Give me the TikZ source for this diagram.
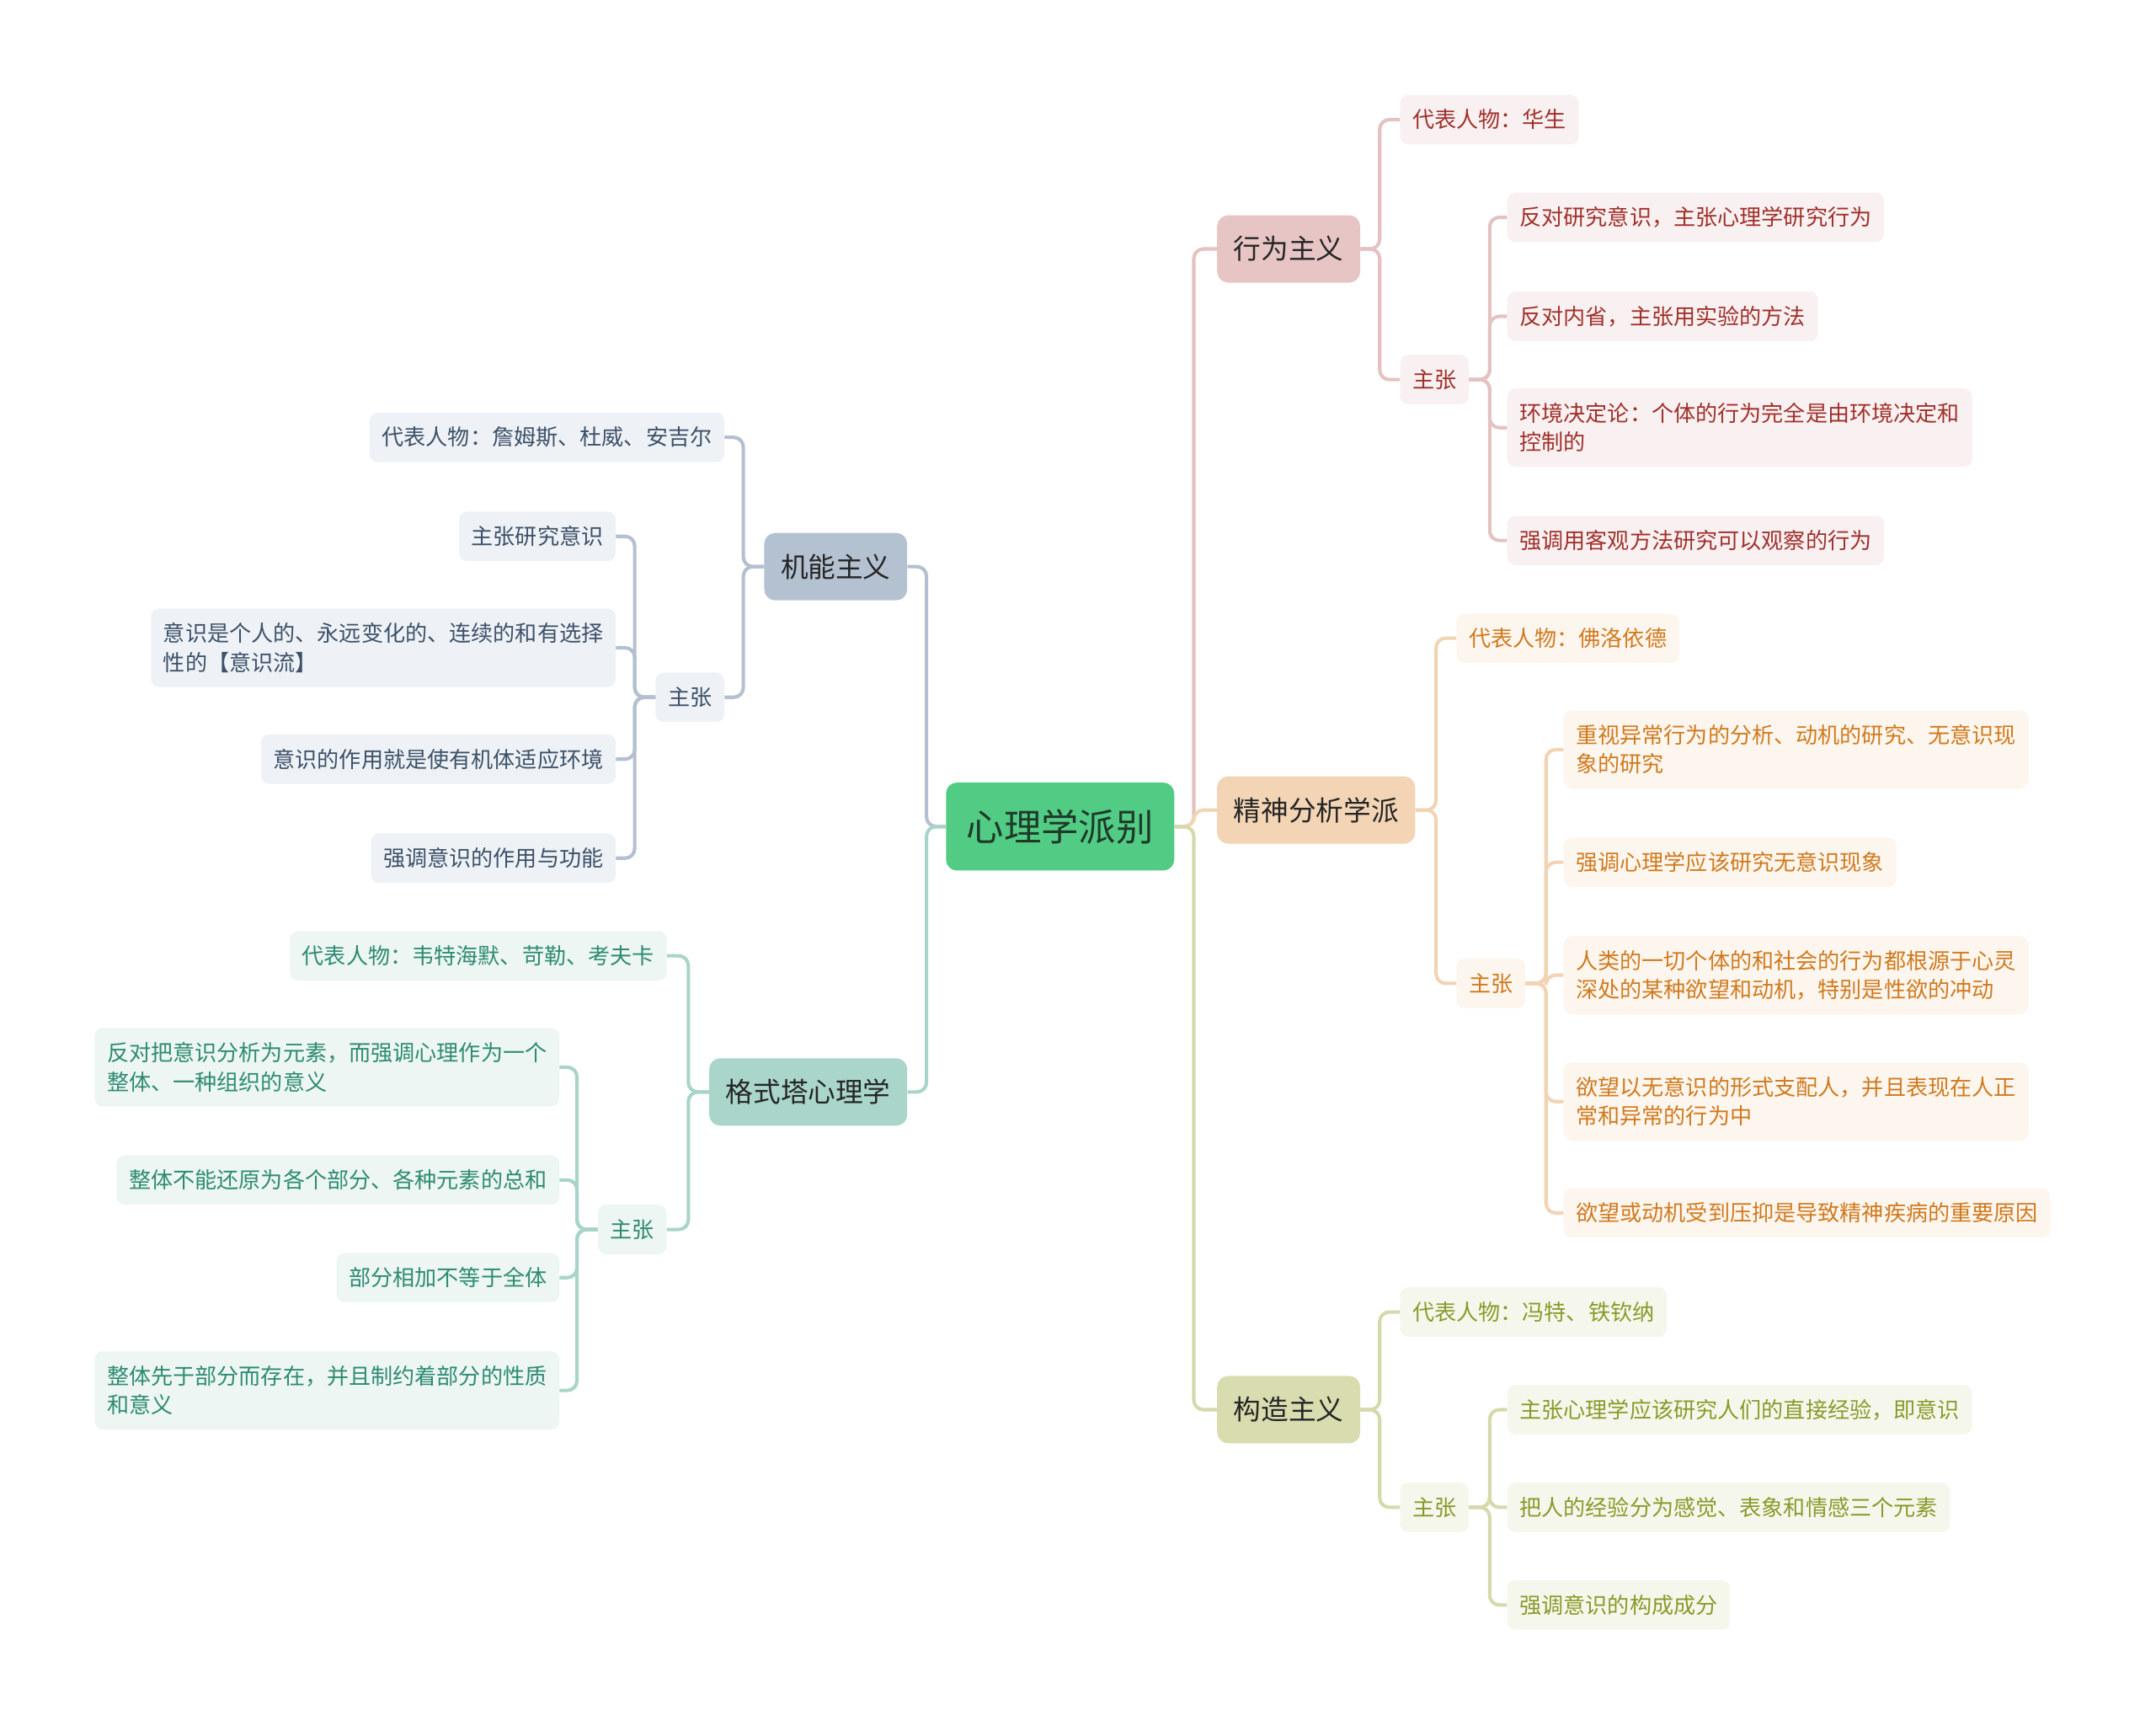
\documentclass[tikz,border=0pt]{standalone}
\usepackage{fontspec}
\newfontfamily\cjk{Noto Sans CJK SC}
\definecolor{rootc}{HTML}{52CC84}
\definecolor{roott}{HTML}{1E3A2A}
\definecolor{darkt}{HTML}{262626}
\definecolor{pinkF}{HTML}{E8C5C5}
\definecolor{pinkL}{HTML}{E4C2C2}
\definecolor{pinkB}{HTML}{F9F1F1}
\definecolor{pinkT}{HTML}{A0302B}
\definecolor{orF}{HTML}{F3D5B5}
\definecolor{orL}{HTML}{F2D4B4}
\definecolor{orB}{HTML}{FDF6EE}
\definecolor{orT}{HTML}{D07A1E}
\definecolor{olF}{HTML}{D9DCAF}
\definecolor{olL}{HTML}{D6D9AC}
\definecolor{olB}{HTML}{F6F7EC}
\definecolor{olT}{HTML}{8A9A2A}
\definecolor{slF}{HTML}{B4C1D1}
\definecolor{slL}{HTML}{B4C0CF}
\definecolor{slB}{HTML}{EEF2F6}
\definecolor{slT}{HTML}{3D5169}
\definecolor{tlF}{HTML}{A9D5CA}
\definecolor{tlL}{HTML}{A8D4C9}
\definecolor{tlB}{HTML}{EDF6F3}
\definecolor{tlT}{HTML}{2E8B72}
\begin{document}
\begin{tikzpicture}[x=1pt,y=-1pt,
  rootnode/.style={rectangle, rounded corners=8pt, fill=rootc, text=roott,
    font=\cjk\fontsize{27.2}{32}\selectfont, inner xsep=15pt, inner ysep=0pt, minimum height=64pt},
  branch/.style={rectangle, rounded corners=8pt, text=darkt,
    font=\cjk\fontsize{20}{24}\selectfont, inner xsep=12pt, inner ysep=0pt, minimum height=49pt},
  leaf/.style={rectangle, rounded corners=6pt, font=\cjk\fontsize{16}{21}\selectfont,
    inner xsep=9pt, inner ysep=0pt, minimum height=36pt, align=left},
  tall/.style={minimum height=57pt},
  pleaf/.style={leaf, fill=pinkB, text=pinkT, anchor=west},
  oleaf/.style={leaf, fill=orB, text=orT, anchor=west},
  gleaf/.style={leaf, fill=olB, text=olT, anchor=west},
  sleaf/.style={leaf, fill=slB, text=slT, anchor=east},
  tleaf/.style={leaf, fill=tlB, text=tlT, anchor=east},
  conn/.style={line width=2.5pt, rounded corners=7pt},
]
\useasboundingbox[fill=white] (0,0) rectangle (1568,1255);

% root
\node[rootnode] (root) at (771,601) {心理学派别};

% main branches
\node[branch, fill=pinkF, anchor=west] (xw) at (885,181) {行为主义};
\node[branch, fill=orF, anchor=west] (js) at (885,589) {精神分析学派};
\node[branch, fill=olF, anchor=west] (gz) at (885,1025) {构造主义};
\node[branch, fill=slF, anchor=east] (jn) at (660,412) {机能主义};
\node[branch, fill=tlF, anchor=east] (gs) at (660,794) {格式塔心理学};

% 行为主义
\node[pleaf] (xw1) at (1018,87) {代表人物：华生};
\node[pleaf] (xwz) at (1018,276) {主张};
\node[pleaf] (xwz1) at (1096,158) {反对研究意识，主张心理学研究行为};
\node[pleaf] (xwz2) at (1096,230) {反对内省，主张用实验的方法};
\node[pleaf, tall] (xwz3) at (1096,311) {环境决定论：个体的行为完全是由环境决定和\\控制的};
\node[pleaf] (xwz4) at (1096,393) {强调用客观方法研究可以观察的行为};

% 精神分析学派
\node[oleaf] (js1) at (1059,464) {代表人物：佛洛依德};
\node[oleaf] (jsz) at (1059,715) {主张};
\node[oleaf, tall] (jsz1) at (1137,545) {重视异常行为的分析、动机的研究、无意识现\\象的研究};
\node[oleaf] (jsz2) at (1137,627) {强调心理学应该研究无意识现象};
\node[oleaf, tall] (jsz3) at (1137,709) {人类的一切个体的和社会的行为都根源于心灵\\深处的某种欲望和动机，特别是性欲的冲动};
\node[oleaf, tall] (jsz4) at (1137,801) {欲望以无意识的形式支配人，并且表现在人正\\常和异常的行为中};
\node[oleaf] (jsz5) at (1137,882) {欲望或动机受到压抑是导致精神疾病的重要原因};

% 构造主义
\node[gleaf] (gz1) at (1018,954) {代表人物：冯特、铁钦纳};
\node[gleaf] (gzz) at (1018,1096) {主张};
\node[gleaf] (gzz1) at (1096,1025) {主张心理学应该研究人们的直接经验，即意识};
\node[gleaf] (gzz2) at (1096,1096) {把人的经验分为感觉、表象和情感三个元素};
\node[gleaf] (gzz3) at (1096,1167) {强调意识的构成成分};

% 机能主义
\node[sleaf] (jn1) at (527,318) {代表人物：詹姆斯、杜威、安吉尔};
\node[sleaf] (jnz) at (527,507) {主张};
\node[sleaf] (jnz1) at (448,390) {主张研究意识};
\node[sleaf, tall] (jnz2) at (448,471) {意识是个人的、永远变化的、连续的和有选择\\性的【意识流】};
\node[sleaf] (jnz3) at (448,552) {意识的作用就是使有机体适应环境};
\node[sleaf] (jnz4) at (448,624) {强调意识的作用与功能};

% 格式塔心理学
\node[tleaf] (gs1) at (485,695) {代表人物：韦特海默、苛勒、考夫卡};
\node[tleaf] (gsz) at (485,894) {主张};
\node[tleaf, tall] (gsz1) at (407,776) {反对把意识分析为元素，而强调心理作为一个\\整体、一种组织的意义};
\node[tleaf] (gsz2) at (407,858) {整体不能还原为各个部分、各种元素的总和};
\node[tleaf] (gsz3) at (407,929) {部分相加不等于全体};
\node[tleaf, tall] (gsz4) at (407,1011) {整体先于部分而存在，并且制约着部分的性质\\和意义};

% connectors from root
\draw[conn, pinkL] (root.east) -- ++(14,0) |- (xw.west);
\draw[conn, orL] (root.east) -- ++(14,0) |- (js.west);
\draw[conn, olL] (root.east) -- ++(14,0) |- (gz.west);
\draw[conn, slL] (root.west) -- ++(-14,0) |- (jn.east);
\draw[conn, tlL] (root.west) -- ++(-14,0) |- (gs.east);

% right side
\foreach \c in {xw1,xwz} \draw[conn, pinkL] (xw.east) -- ++(14,0) |- (\c.west);
\foreach \c in {xwz1,xwz2,xwz3,xwz4} \draw[conn, pinkL] (xwz.east) -- ++(15,0) |- (\c.west);
\foreach \c in {js1,jsz} \draw[conn, orL] (js.east) -- ++(15,0) |- (\c.west);
\foreach \c in {jsz1,jsz2,jsz3,jsz4,jsz5} \draw[conn, orL] (jsz.east) -- ++(15,0) |- (\c.west);
\foreach \c in {gz1,gzz} \draw[conn, olL] (gz.east) -- ++(14,0) |- (\c.west);
\foreach \c in {gzz1,gzz2,gzz3} \draw[conn, olL] (gzz.east) -- ++(15,0) |- (\c.west);

% left side
\foreach \c in {jn1,jnz} \draw[conn, slL] (jn.west) -- ++(-15,0) |- (\c.east);
\foreach \c in {jnz1,jnz2,jnz3,jnz4} \draw[conn, slL] (jnz.west) -- ++(-15,0) |- (\c.east);
\foreach \c in {gs1,gsz} \draw[conn, tlL] (gs.west) -- ++(-15,0) |- (\c.east);
\foreach \c in {gsz1,gsz2,gsz3,gsz4} \draw[conn, tlL] (gsz.west) -- ++(-15,0) |- (\c.east);
\end{tikzpicture}
\end{document}
